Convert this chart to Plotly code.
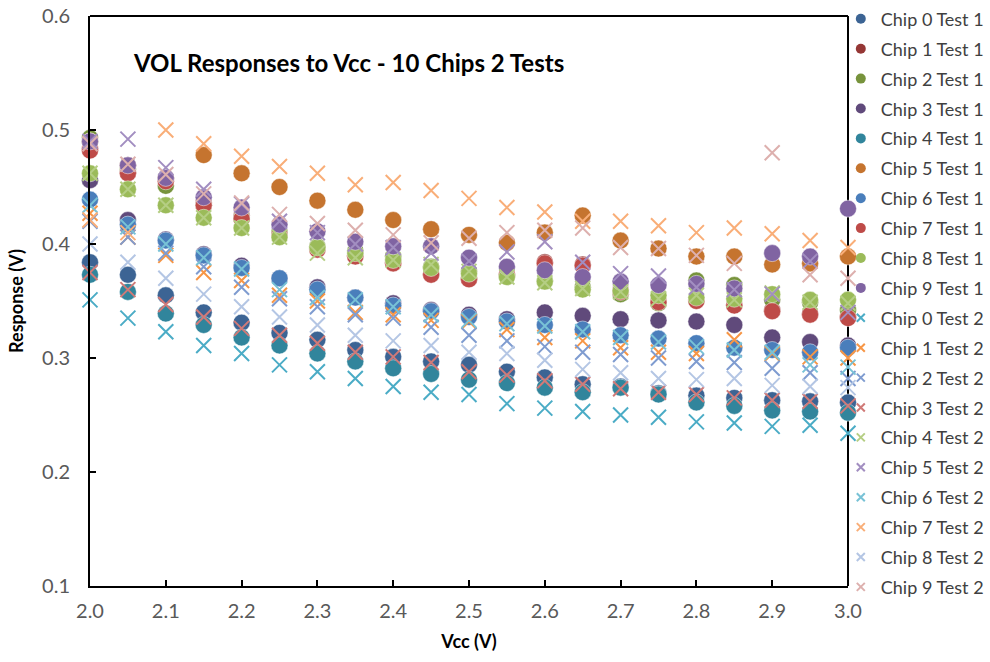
import plotly.graph_objects as go

vcc = [2.0, 2.05, 2.1, 2.15, 2.2, 2.25, 2.3, 2.35, 2.4, 2.45, 2.5,
       2.55, 2.6, 2.65, 2.7, 2.75, 2.8, 2.85, 2.9, 2.95, 3.0]

series_names = [f"Chip {i} Test 1" for i in range(10)] + [f"Chip {i} Test 2" for i in range(10)]

chip0_t1 = [0.384, 0.373, 0.355, 0.340, 0.331, 0.322, 0.316, 0.307, 0.301, 0.297, 0.294,
            0.288, 0.283, 0.277, 0.275, 0.269, 0.267, 0.265, 0.263, 0.262, 0.261]
chip1_t1 = [0.484, 0.463, 0.457, 0.436, 0.425, 0.410, 0.396, 0.390, 0.384, 0.374, 0.370,
            0.374, 0.384, 0.382, 0.360, 0.350, 0.351, 0.347, 0.342, 0.339, 0.336]
chip2_t1 = [0.493, 0.466, 0.451, 0.434, 0.423, 0.410, 0.398, 0.394, 0.389, 0.380, 0.376,
            0.372, 0.368, 0.362, 0.356, 0.348, 0.368, 0.364, 0.351, 0.349, 0.342]
chip3_t1 = [0.456, 0.421, 0.404, 0.391, 0.381, 0.370, 0.362, 0.353, 0.348, 0.342, 0.338,
            0.334, 0.340, 0.337, 0.334, 0.333, 0.332, 0.329, 0.318, 0.314, 0.311]
chip4_t1 = [0.373, 0.358, 0.339, 0.329, 0.318, 0.311, 0.304, 0.297, 0.291, 0.286, 0.281,
            0.278, 0.274, 0.270, 0.274, 0.268, 0.261, 0.258, 0.254, 0.253, 0.252]
chip5_t1 = [0.490, 0.469, 0.458, 0.478, 0.462, 0.450, 0.438, 0.430, 0.421, 0.413, 0.408,
            0.401, 0.410, 0.425, 0.403, 0.396, 0.389, 0.389, 0.382, 0.383, 0.389]
chip6_t1 = [0.439, 0.417, 0.403, 0.390, 0.379, 0.370, 0.360, 0.353, 0.346, 0.341, 0.336,
            0.332, 0.329, 0.325, 0.320, 0.317, 0.313, 0.309, 0.307, 0.305, 0.309]
chip7_t1 = [0.482, 0.462, 0.455, 0.434, 0.422, 0.408, 0.395, 0.389, 0.383, 0.373, 0.369,
            0.373, 0.383, 0.381, 0.358, 0.349, 0.350, 0.346, 0.341, 0.338, 0.335]
chip8_t1 = [0.462, 0.448, 0.434, 0.423, 0.414, 0.406, 0.397, 0.392, 0.386, 0.379, 0.374,
            0.371, 0.367, 0.360, 0.359, 0.355, 0.353, 0.352, 0.356, 0.351, 0.351]
chip9_t1 = [0.490, 0.469, 0.458, 0.441, 0.432, 0.417, 0.411, 0.402, 0.398, 0.398, 0.388,
            0.380, 0.377, 0.371, 0.367, 0.364, 0.365, 0.361, 0.392, 0.389, 0.431]

chip0_t2 = [0.351, 0.335, 0.323, 0.311, 0.304, 0.294, 0.288, 0.282, 0.275, 0.270, 0.268,
            0.260, 0.256, 0.253, 0.250, 0.248, 0.244, 0.243, 0.240, 0.241, 0.234]
chip1_t2 = [0.427, 0.406, 0.390, 0.375, 0.368, 0.355, 0.350, 0.340, 0.338, 0.333, 0.332,
            0.325, 0.318, 0.315, 0.309, 0.305, 0.304, 0.316, 0.304, 0.301, 0.300]
chip2_t2 = [0.420, 0.406, 0.392, 0.380, 0.362, 0.352, 0.345, 0.338, 0.335, 0.327, 0.320,
            0.315, 0.310, 0.305, 0.303, 0.300, 0.297, 0.296, 0.291, 0.287, 0.282]
chip3_t2 = [0.375, 0.360, 0.347, 0.336, 0.326, 0.320, 0.313, 0.305, 0.301, 0.296, 0.288,
            0.285, 0.280, 0.277, 0.273, 0.270, 0.268, 0.265, 0.263, 0.262, 0.258]
chip4_t2 = [0.462, 0.448, 0.434, 0.423, 0.414, 0.406, 0.392, 0.388, 0.386, 0.382, 0.376,
            0.371, 0.366, 0.361, 0.358, 0.352, 0.355, 0.351, 0.357, 0.349, 0.348]
chip5_t2 = [0.490, 0.492, 0.467, 0.448, 0.435, 0.420, 0.410, 0.400, 0.397, 0.392, 0.385,
            0.393, 0.402, 0.384, 0.374, 0.372, 0.362, 0.360, 0.356, 0.385, 0.340]
chip6_t2 = [0.434, 0.415, 0.400, 0.388, 0.378, 0.360, 0.353, 0.351, 0.345, 0.338, 0.333,
            0.330, 0.328, 0.323, 0.318, 0.314, 0.310, 0.307, 0.305, 0.294, 0.292]
chip7_t2 = [0.421, 0.410, 0.500, 0.488, 0.477, 0.468, 0.462, 0.452, 0.454, 0.447, 0.440,
            0.432, 0.428, 0.420, 0.420, 0.416, 0.410, 0.414, 0.409, 0.403, 0.397]
chip8_t2 = [0.400, 0.384, 0.370, 0.356, 0.345, 0.336, 0.329, 0.320, 0.315, 0.311, 0.305,
            0.304, 0.298, 0.290, 0.287, 0.282, 0.281, 0.282, 0.276, 0.275, 0.274]
chip9_t2 = [0.488, 0.470, 0.461, 0.444, 0.436, 0.426, 0.418, 0.412, 0.408, 0.401, 0.405,
            0.410, 0.412, 0.414, 0.397, 0.396, 0.390, 0.383, 0.480, 0.373, 0.370]

values = [chip0_t1, chip1_t1, chip2_t1, chip3_t1, chip4_t1, chip5_t1, chip6_t1, chip7_t1, chip8_t1, chip9_t1,
          chip0_t2, chip1_t2, chip2_t2, chip3_t2, chip4_t2, chip5_t2, chip6_t2, chip7_t2, chip8_t2, chip9_t2]

colors = ["#3C6494", "#953735", "#77933C", "#604A7B", "#31859C", "#C5742F", "#4A7EBB", "#BE4B48", "#9BBB59", "#8064A2",
          "#4BACC6", "#F79646", "#7F9CD0", "#D07A78", "#B5CE84", "#A28EC1", "#78C2D6", "#F9AE78", "#B4C6E4", "#DDB0AE"]

x_ticks = [2.0, 2.1, 2.2, 2.3, 2.4, 2.5, 2.6, 2.7, 2.8, 2.9, 3.0]
y_ticks = [0.1, 0.2, 0.3, 0.4, 0.5, 0.6]

fig = go.Figure()
for i, (name, ys, c) in enumerate(zip(series_names, values, colors)):
    if i < 10:
        marker = dict(symbol="circle", size=17, color=c, line=dict(width=0.8, color="rgba(255,255,255,0.6)"))
        leg_marker = dict(symbol="circle", size=10, color=c)
    else:
        marker = dict(symbol="x-thin", size=15, color=c, line=dict(width=2, color=c))
        leg_marker = dict(symbol="x-thin", size=8, color=c, line=dict(width=2, color=c))
    fig.add_trace(go.Scatter(x=vcc, y=ys, mode="markers", name=name, marker=marker,
                             legendgroup=name, showlegend=False, cliponaxis=False))
    # small legend swatch, same series style
    fig.add_trace(go.Scatter(x=[None], y=[None], mode="markers", name=name, marker=leg_marker,
                             legendgroup=name, showlegend=True, hoverinfo="skip"))

fig.add_shape(type="line", xref="paper", yref="paper", x0=0, x1=1, y0=1, y1=1,
              line=dict(color="black", width=2), layer="below")
fig.add_shape(type="line", xref="paper", yref="paper", x0=1, x1=1, y0=0, y1=1,
              line=dict(color="black", width=2), layer="below")

fig.add_annotation(text="<b>VOL Responses to Vcc - 10 Chips 2 Tests</b>", xref="paper", yref="paper",
                   x=(131 - 90) / 758, y=(586 - 62) / 570, xanchor="left", yanchor="middle",
                   showarrow=False, font=dict(family="Lato", size=24, color="black"))

fig.update_layout(
    width=990, height=662,
    margin=dict(l=90, r=142, t=16, b=76, autoexpand=False),
    paper_bgcolor="white", plot_bgcolor="white",
    font=dict(family="Lato", color="#595959"),
    showlegend=True,
    legend=dict(x=0.9905, y=1.027, xanchor="left", yanchor="top", bgcolor="rgba(0,0,0,0)",
                font=dict(family="Lato", size=18, color="#404040"), maxheight=660,
                tracegroupgap=3.5, itemsizing="trace", traceorder="grouped"),
    xaxis=dict(range=[2.0, 3.0], tickvals=x_ticks, ticktext=[f"{v:.1f}" for v in x_ticks],
               showgrid=False, zeroline=False, showline=True, linecolor="black", linewidth=2,
               ticks="inside", ticklen=6, tickwidth=2, tickcolor="black",
               tickfont=dict(size=20, color="#595959"), ticklabelstandoff=6, layer="above traces",
               title=dict(text="<b>Vcc (V)</b>", font=dict(size=18, color="black"), standoff=14)),
    yaxis=dict(range=[0.1, 0.6], tickvals=y_ticks, ticktext=[f"{v:.1f}" for v in y_ticks],
               showgrid=False, zeroline=False, showline=True, linecolor="black", linewidth=2,
               ticks="inside", ticklen=6, tickwidth=2, tickcolor="black",
               tickfont=dict(size=20, color="#595959"), ticklabelstandoff=14, layer="above traces",
               title=dict(text="<b>Response (V)</b>", font=dict(size=18, color="black"), standoff=14)),
)

fig.write_html("out.html")
